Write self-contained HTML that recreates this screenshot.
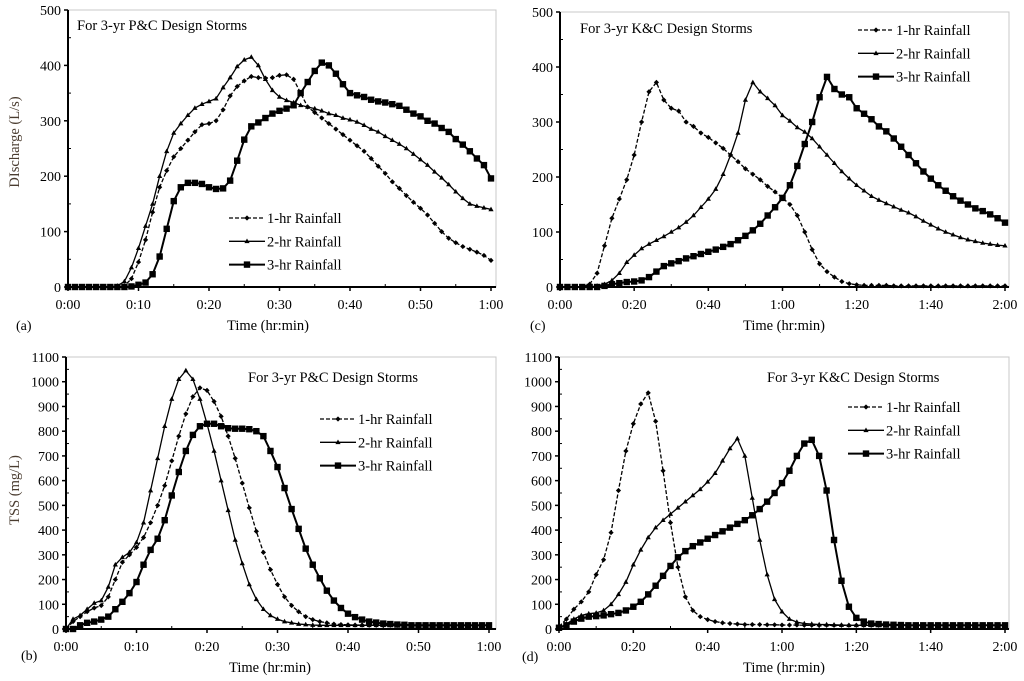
<!DOCTYPE html>
<html><head><meta charset="utf-8"><style>
html,body{margin:0;padding:0;background:#fff;}
svg{display:block;font-family:"Liberation Serif",serif;}
</style></head><body>
<svg id="chart" width="1024" height="681" viewBox="0 0 1024 681" xmlns="http://www.w3.org/2000/svg"></svg>
<script>
// Panel (a) discharge P&C, 1-min steps 0..60
const aOne=[0,0,0,0,0,0,0,0,2,15,45,85,135,180,210,235,250,265,280,293,295,300,320,345,362,372,380,378,377,378,382,383,375,350,325,315,305,295,285,275,265,255,245,232,218,205,190,178,165,153,142,130,115,100,88,80,73,68,63,57,48];
const aTwo=[0,0,0,0,0,0,0,2,10,35,70,110,150,200,245,278,295,310,323,330,335,340,360,378,398,410,415,400,375,355,343,337,333,328,325,322,318,313,310,305,302,298,292,285,280,272,265,258,250,240,230,220,208,197,185,172,160,150,146,143,140];
const aThree=[0,0,0,0,0,0,0,0,0,1,4,8,23,55,105,155,180,188,188,186,180,177,178,192,228,266,290,297,305,313,318,322,328,350,370,390,405,400,385,366,350,346,343,338,335,333,330,327,320,313,308,300,295,287,280,267,257,245,232,220,196];
// Panel (b) TSS P&C, 1-min steps 0..60
const bOne=[0,30,50,70,85,95,130,200,270,300,330,370,430,500,580,680,780,870,940,975,965,920,860,780,690,590,490,395,310,240,180,130,95,70,50,38,30,25,20,18,17,16,16,15,15,15,15,15,15,15,15,15,15,15,15,15,15,15,15,15,15];
const bTwo=[0,40,55,80,105,115,170,260,290,310,350,430,560,690,820,930,1010,1045,1010,930,830,720,600,480,360,265,180,120,80,55,40,30,25,20,18,16,15,15,15,15,15,15,15,15,15,15,15,15,15,15,15,15,15,15,15,15,15,15,15,15,15];
const bThree=[0,0,15,25,30,38,50,80,110,145,190,260,320,365,440,540,635,720,785,820,830,830,820,812,810,810,808,800,780,720,655,570,485,405,325,260,205,155,115,85,62,48,38,30,26,22,20,18,17,15,15,15,15,15,15,15,15,15,15,15,15];
// Panel (c) discharge K&C, 2-min steps 0..120
const cOne=[0,0,0,0,5,25,75,125,160,195,240,300,355,372,340,325,320,300,292,280,272,262,252,240,228,215,205,195,183,173,162,150,130,100,68,42,28,18,10,6,4,3,3,3,3,2,2,2,2,2,2,2,2,2,2,2,2,2,2,2,2];
const cTwo=[0,0,0,0,0,2,5,12,25,45,58,70,78,85,92,100,108,118,130,145,160,178,205,240,280,340,372,355,343,330,312,302,290,282,270,255,240,225,210,197,185,175,165,158,152,146,140,135,128,120,113,106,100,95,90,86,83,80,78,76,75];
const cThree=[0,0,0,0,0,0,2,5,7,9,10,12,18,28,38,43,47,52,56,60,64,68,73,78,85,93,103,115,130,145,162,185,220,260,300,345,382,360,350,345,325,315,305,292,283,270,255,240,225,210,197,185,175,165,157,150,143,138,132,125,117];
// Panel (d) TSS K&C, 2-min steps 0..120
const dOne=[10,40,80,110,150,220,280,390,560,720,830,910,955,840,640,430,250,130,75,50,38,30,25,22,20,18,18,18,17,17,16,16,16,15,15,15,15,15,15,15,15,15,15,15,15,15,15,15,15,15,15,15,15,15,15,15,15,15,15,15,15];
const dTwo=[5,20,40,55,62,65,75,100,140,190,260,320,370,410,440,465,490,515,540,565,595,630,680,730,770,700,530,360,220,120,70,40,28,22,20,18,18,17,16,15,15,15,15,15,15,15,15,15,15,15,15,15,15,15,15,15,15,15,15,15,15];
const dThree=[5,15,30,42,50,52,55,60,65,75,90,110,140,175,215,255,290,315,335,350,365,380,395,410,425,440,460,485,515,550,590,640,700,750,765,700,560,360,195,90,45,30,22,20,18,17,16,15,15,15,15,15,15,15,15,15,15,15,15,15,15];
const xTicksHour=["0:00","0:10","0:20","0:30","0:40","0:50","1:00"];
const xTicksTwo=["0:00","0:20","0:40","1:00","1:20","1:40","2:00"];
const legendNames=["1-hr Rainfall","2-hr Rainfall","3-hr Rainfall"];

const NS="http://www.w3.org/2000/svg";
const svg=document.getElementById('chart');
function mk(tag,attrs,parent,text){const e=document.createElementNS(NS,tag);for(const k in attrs)e.setAttribute(k,attrs[k]);if(text!==undefined)e.textContent=text;(parent||svg).appendChild(e);return e;}

function marker(g,kind,x,y){
  let m;
  if(kind===0){m=mk('polygon',{points:`${x},${y-2.6} ${x+2.6},${y} ${x},${y+2.6} ${x-2.6},${y}`,fill:'#000'},g);}
  else if(kind===1){m=mk('polygon',{points:`${x},${y-2.8} ${x+2.6},${y+1.8} ${x-2.6},${y+1.8}`,fill:'#000'},g);}
  else {m=mk('rect',{x:x-3.2,y:y-3.2,width:6.4,height:6.4,fill:'#000'},g);}
  return m;
}

function panel(cfg){
  const g=mk('g',{});
  
  
  const X=t=>cfg.x0+(cfg.x1-cfg.x0)*t/cfg.tmax;
  const Y=v=>cfg.y0-(cfg.y0-cfg.ytop)*v/cfg.vmax;
  const fr=mk('rect',{x:cfg.x0,y:cfg.ytop,width:cfg.xr-cfg.x0,height:cfg.y0-cfg.ytop,fill:'none',stroke:'#c8c8c8','stroke-width':1},g);
  
  for(let v=0;v<=cfg.vmax;v+=cfg.vstep){
    const yy=Y(v);
    mk('line',{x1:cfg.x0-4,x2:cfg.x0,y1:yy,y2:yy,stroke:'#000','stroke-width':1.5},g);
    if(v+cfg.vstep/2<cfg.vmax) mk('line',{x1:cfg.x0,x2:cfg.x0+3,y1:Y(v+cfg.vstep/2),y2:Y(v+cfg.vstep/2),stroke:'#000','stroke-width':1},g);
    const t=mk('text',{x:cfg.x0-7,y:yy+5,'text-anchor':'end','font-size':14,fill:'#000'},g,String(v));
    
  }
  cfg.xlabels.forEach((lab,i)=>{
    const t0=i*cfg.tmax/(cfg.xlabels.length-1);
    const xx=X(t0);
    mk('line',{x1:xx,x2:xx,y1:cfg.y0,y2:cfg.y0+4,stroke:'#000','stroke-width':1.5},g);
    const t=mk('text',{x:xx,y:cfg.y0+22,'text-anchor':'middle','font-size':14,fill:'#000'},g,lab);
    
  });
  const nMinor=(cfg.xlabels.length-1)*2;
  for(let i=1;i<nMinor;i+=2){const xx=X(i*cfg.tmax/nMinor);mk('line',{x1:xx,x2:xx,y1:cfg.y0-3,y2:cfg.y0,stroke:'#000','stroke-width':1},g);}
  mk('line',{x1:cfg.x0,x2:cfg.x0,y1:cfg.ytop,y2:cfg.y0,stroke:'#000','stroke-width':2},g);
  mk('line',{x1:cfg.x0,x2:cfg.xr,y1:cfg.y0,y2:cfg.y0,stroke:'#000','stroke-width':2},g);
  cfg.series.forEach((arr,si)=>{
    const sg=mk('g',{},g);
    
    
    const pts=arr.map((v,i)=>X(i*cfg.step)+','+Y(v)).join(' ');
    const attrs={points:pts,fill:'none',stroke:'#000','stroke-width':si===2?2:1.3};
    if(si===0)attrs['stroke-dasharray']='4,2';
    mk('polyline',attrs,sg);
    arr.forEach((v,i)=>{marker(sg,si,X(i*cfg.step),Y(v));});
  });
  const ti=mk('text',{x:cfg.tx,y:cfg.ty,'font-size':14.5,fill:'#000','xml:space':'preserve'},g,cfg.title);
  
  legendNames.forEach((nm,i)=>{
    const lg=mk('g',{},g);
    
    
    const yy=cfg.ly+i*23.3;
    const la={x1:cfg.lx,x2:cfg.lx+36,y1:yy,y2:yy,stroke:'#000','stroke-width':i===2?2:1.3};
    if(i===0)la['stroke-dasharray']='4,2';
    mk('line',la,lg);
    marker(lg,i,cfg.lx+18,yy);
    mk('text',{x:cfg.lx+38,y:yy+5,'font-size':14.5,fill:'#000'},lg,nm);
  });
  const xt=mk('text',{x:cfg.xtx,y:cfg.xty,'text-anchor':'middle','font-size':14.5,fill:'#000'},g,'Time (hr:min)');
  
  const tag=mk('text',{x:cfg.tagx,y:cfg.tagy,'font-size':14,fill:'#000'},g,cfg.tag);
  
  if(cfg.ytitle){
    const yt=mk('text',{x:0,y:0,'text-anchor':'middle','font-size':14.5,fill:'#4a3c30',transform:`translate(${cfg.ytx},${cfg.yty}) rotate(-90)`},g,cfg.ytitle);
    
  }
}

panel({name:'panel-a-discharge-pc',x0:68,x1:491,xr:496,tmax:60,step:1,y0:287,ytop:10,vmax:500,vstep:100,xlabels:xTicksHour,
  series:[aOne,aTwo,aThree],title:'For 3-yr P&C Design  Storms',tx:77,ty:30,lx:229,ly:218,xtx:268,xty:330,tag:'(a)',tagx:16,tagy:330,ytitle:'DIscharge (L/s)',ytx:19,yty:142});
panel({name:'panel-b-tss-pc',x0:66,x1:489,xr:496,tmax:60,step:1,y0:629,ytop:357,vmax:1100,vstep:100,xlabels:xTicksHour,
  series:[bOne,bTwo,bThree],title:'For 3-yr P&C Design  Storms',tx:248,ty:382,lx:320,ly:419,xtx:270,xty:672,tag:'(b)',tagx:21,tagy:660,ytitle:'TSS (mg/L)',ytx:19,yty:490});
panel({name:'panel-c-discharge-kc',x0:560,x1:1005,xr:1009,tmax:120,step:2,y0:287,ytop:12,vmax:500,vstep:100,xlabels:xTicksTwo,
  series:[cOne,cTwo,cThree],title:'For 3-yr K&C Design  Storms',tx:580,ty:33,lx:858,ly:30,xtx:784,xty:330,tag:'(c)',tagx:530,tagy:330});
panel({name:'panel-d-tss-kc',x0:559,x1:1005,xr:1009,tmax:120,step:2,y0:629,ytop:357,vmax:1100,vstep:100,xlabels:xTicksTwo,
  series:[dOne,dTwo,dThree],title:'For 3-yr K&C Design  Storms',tx:767,ty:382,lx:848,ly:407,xtx:784,xty:672,tag:'(d)',tagx:522,tagy:661});
</script>
</body></html>
